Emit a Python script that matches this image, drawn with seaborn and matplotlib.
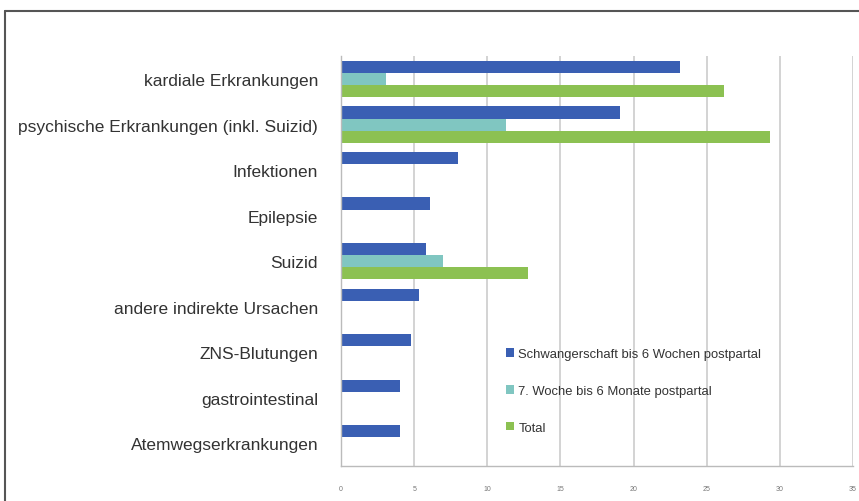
import pandas as pd
import numpy as np
import matplotlib
matplotlib.use("Agg")
import matplotlib.pyplot as plt
from matplotlib.lines import Line2D
import seaborn as sns

categories = [
    "kardiale Erkrankungen",
    "psychische Erkrankungen (inkl. Suizid)",
    "Infektionen",
    "Epilepsie",
    "Suizid",
    "andere indirekte Ursachen",
    "ZNS-Blutungen",
    "gastrointestinal",
    "Atemwegserkrankungen",
]
series = [
    "Schwangerschaft bis 6 Wochen postpartal",
    "7. Woche bis 6 Monate postpartal",
    "Total",
]
bis_6_wochen = [23.2, 19.1, 8.0, 6.1, 5.8, 5.3, 4.8, 4.0, 4.0]
woche7_bis_6_monate = [3.1, 11.3, np.nan, np.nan, 7.0, np.nan, np.nan, np.nan, np.nan]
total = [26.2, 29.3, np.nan, np.nan, 12.8, np.nan, np.nan, np.nan, np.nan]
x_ticks = [0, 5, 10, 15, 20, 25, 30, 35]

COLORS = ["#3a5fb3", "#80c6c1", "#8cc152"]

rows = []
for s, vals in zip(series, [bis_6_wochen, woche7_bis_6_monate, total]):
    for c, v in zip(categories, vals):
        rows.append({"Ursache": c, "Gruppe": s, "Wert": v})
df = pd.DataFrame(rows)

sns.set_theme(style="white")
plt.rcParams["font.family"] = ["Liberation Sans", "DejaVu Sans"]

fig = plt.figure(figsize=(8.59, 5.02), dpi=100)
ax = fig.add_axes([0.397, 0.0697, 0.596, 0.816])

sns.barplot(data=df, y="Ursache", x="Wert", hue="Gruppe", order=categories,
            hue_order=series, palette=COLORS, saturation=1, orient="h",
            errorbar=None, width=0.8, linewidth=0, ax=ax)

ax.set_xlim(0, 35)
ax.set_ylim(len(categories) - 0.5, -0.5)
ax.set_xticks(x_ticks)
ax.set_xticklabels([str(t) for t in x_ticks], fontsize=5, color="#777777")
ax.tick_params(axis="x", direction="out", length=4, width=0.8, color="#aaaaaa", pad=10)
ax.tick_params(axis="y", which="major", length=0, pad=16.5, labelsize=12.5, labelcolor="#333333")
ax.set_yticks(np.arange(-0.5, len(categories), 1.0), minor=True)
ax.tick_params(axis="y", which="minor", direction="out", length=4, width=0.8, color="#aaaaaa")
ax.xaxis.grid(True, color="#cccccc", linewidth=1.2)
ax.set_axisbelow(True)
ax.set_xlabel("")
ax.set_ylabel("")
for side in ["top", "right"]:
    ax.spines[side].set_visible(False)
for side in ["left", "bottom"]:
    ax.spines[side].set_color("#bbbbbb")
    ax.spines[side].set_linewidth(1.0)

leg = ax.legend(loc="center left", bbox_to_anchor=(0.322, 0.183), frameon=False,
                fontsize=9.4, labelspacing=1.9, handlelength=0.6, handleheight=0.6,
                handletextpad=0.35, borderaxespad=0, borderpad=0)
for t in leg.get_texts():
    t.set_color("#333333")

x0 = 5 / 859
top = 1 - 12 / 502
fig.add_artist(Line2D([x0, x0], [0, top], color="#555555", linewidth=1.5))
fig.add_artist(Line2D([x0, 1], [top, top], color="#555555", linewidth=1.5))

plt.savefig("out.png", dpi=100)
plt.close()
